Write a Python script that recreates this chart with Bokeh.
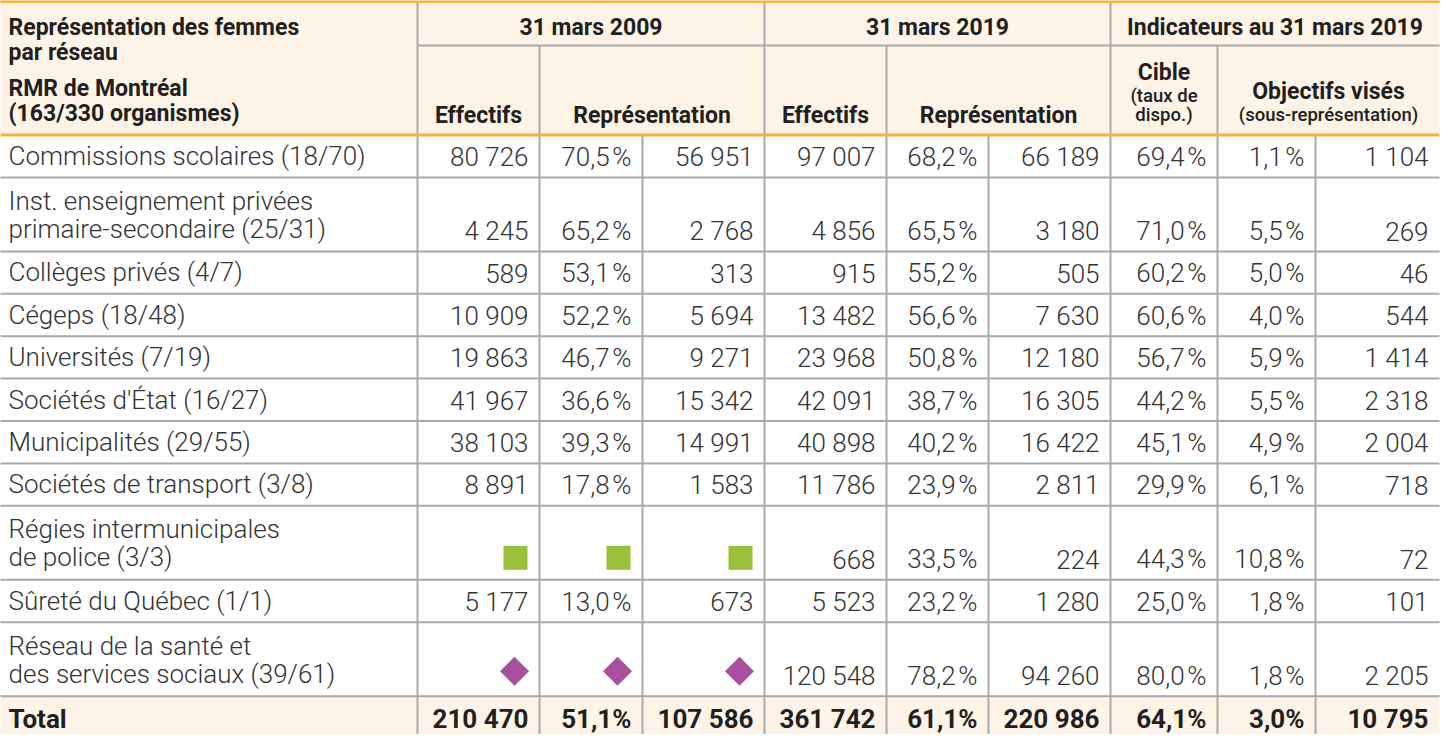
from bokeh.plotting import figure
from bokeh.models import Range1d
from bokeh.core.properties import value
from bokeh.embed import file_html
from bokeh.resources import INLINE
import math

# ---------------- data ----------------
labels = [
    "Commissions scolaires (18/70)",
    "Inst. enseignement privées\nprimaire-secondaire (25/31)",
    "Collèges privés (4/7)",
    "Cégeps (18/48)",
    "Universités (7/19)",
    "Sociétés d'État (16/27)",
    "Municipalités (29/55)",
    "Sociétés de transport (3/8)",
    "Régies intermunicipales\nde police (3/3)",
    "Sûreté du Québec (1/1)",
    "Réseau de la santé et\ndes services sociaux (39/61)",
]
eff_2009 = [80726, 4245, 589, 10909, 19863, 41967, 38103, 8891, None, 5177, None]
rep_pct_2009 = [70.5, 65.2, 53.1, 52.2, 46.7, 36.6, 39.3, 17.8, None, 13.0, None]
rep_n_2009 = [56951, 2768, 313, 5694, 9271, 15342, 14991, 1583, None, 673, None]
eff_2019 = [97007, 4856, 915, 13482, 23968, 42091, 40898, 11786, 668, 5523, 120548]
rep_pct_2019 = [68.2, 65.5, 55.2, 56.6, 50.8, 38.7, 40.2, 23.9, 33.5, 23.2, 78.2]
rep_n_2019 = [66189, 3180, 505, 7630, 12180, 16305, 16422, 2811, 224, 1280, 94260]
cible = [69.4, 71.0, 60.2, 60.6, 56.7, 44.2, 45.1, 29.9, 44.3, 25.0, 80.0]
obj_pct = [1.1, 5.5, 5.0, 4.0, 5.9, 5.5, 4.9, 6.1, 10.8, 1.8, 1.8]
obj_n = [1104, 269, 46, 544, 1414, 2318, 2004, 718, 72, 101, 2205]
note_2009 = ["", "", "", "", "", "", "", "", "square", "", "diamond"]

total_label = "Total"
totals = [210470, 51.1, 107586, 361742, 61.1, 220986, 64.1, 3.0, 10795]
total_kinds = ["n", "p", "n", "n", "p", "n", "p", "p", "n"]

title_lines = ["Représentation des femmes", "par réseau", "RMR de Montréal", "(163/330 organismes)"]
group_headers = ["31 mars 2009", "31 mars 2019", "Indicateurs au 31 mars 2019"]
sub_headers = ["Effectifs", "Représentation", "Effectifs", "Représentation", "Cible", "Objectifs visés"]
cible_note = ["(taux de", "dispo.)"]
obj_note = "(sous-représentation)"

# ---------------- layout / style ----------------
FONT = value("Roboto")
BODY_FONT = value("Roboto Light")
NOTE_FONT = value("Roboto Medium")
CREAM = "#fdf4e7"
ORANGE = "#f7b23b"
GRID = "#a7a9ac"
HEAD_C = "#231f20"
BODY_C = "#333333"
GREEN = "#9abf3b"
PURPLE = "#a94f9f"

col_x = [7, 425, 547, 650, 772, 894, 996, 1118, 1225, 1323, 1447]
HEAD_TOP, HEAD_MID, HEAD_BOT = 10, 53, 142.5
SINGLE, DOUBLE = 42.4, 74.0
BOTTOM = 742
PAD = 11
LEFT_X = 16
BODY_FS, HEAD_FS, NOTE_FS, TOTAL_FS = 26, 23, 18.5, 26


def bl(y, fs):
    # place the alphabetic baseline of a text of size fs at y
    return y - 0.36 * fs


def fmt_n(v):
    return f"{v:,}".replace(",", " ")


def fmt_p(v, sep="\u200a"):
    return f"{v:.1f}".replace(".", ",") + sep + "%"


p = figure(width=1444, height=734, x_range=Range1d(8, 1452), y_range=Range1d(742, 8),
           output_backend="svg", toolbar_location=None, min_border=0,
           x_axis_type=None, y_axis_type=None)
p.grid.visible = False
p.outline_line_color = None
p.background_fill_color = "white"
p.border_fill_color = "white"

# row boundaries
row_tops, row_bots = [], []
y = HEAD_BOT
for lab in labels:
    h = DOUBLE if "\n" in lab else SINGLE
    row_tops.append(y)
    y += h
    row_bots.append(y)
total_top = y

# backgrounds
p.quad(left=[col_x[0], col_x[0]], right=[col_x[-1], col_x[-1]],
       top=[HEAD_TOP, total_top], bottom=[HEAD_BOT, BOTTOM],
       fill_color=CREAM, line_color=None)

# grid lines
hy = row_bots
p.segment(x0=[col_x[0]] * len(hy), x1=[col_x[-1]] * len(hy), y0=hy, y1=hy,
          line_color=GRID, line_width=2)
p.segment(x0=[col_x[1]], x1=[col_x[-1]], y0=[HEAD_MID], y1=[HEAD_MID], line_color=GRID, line_width=2)
vx = col_x[1:-1]
p.segment(x0=vx, x1=vx, y0=[HEAD_BOT] * len(vx), y1=[BOTTOM] * len(vx), line_color=GRID, line_width=2)
full = [col_x[1], col_x[4], col_x[7]]
half = [col_x[2], col_x[5], col_x[8]]
p.segment(x0=full, x1=full, y0=[HEAD_TOP] * 3, y1=[HEAD_BOT] * 3, line_color=GRID, line_width=2)
p.segment(x0=half, x1=half, y0=[HEAD_MID] * 3, y1=[HEAD_BOT] * 3, line_color=GRID, line_width=2)

# orange rules
p.quad(left=[col_x[0], col_x[0]], right=[col_x[-1], col_x[-1]],
       top=[7.5, HEAD_BOT - 1.5], bottom=[10.5, HEAD_BOT + 1.5],
       fill_color=ORANGE, line_color=None)

# header texts
tl_y = [bl(v, HEAD_FS) for v in [43, 68, 104, 129]]
p.text(x=[LEFT_X] * 4, y=tl_y, text=title_lines, text_font=FONT, text_font_style="bold",
       text_font_size=f"{HEAD_FS}px", text_color=HEAD_C, text_align="left", text_baseline="alphabetic")

gx = [(col_x[1] + col_x[4]) / 2, (col_x[4] + col_x[7]) / 2, (col_x[7] + col_x[10]) / 2]
p.text(x=gx, y=[bl(43, HEAD_FS)] * 3, text=group_headers, text_font=FONT, text_font_style="bold",
       text_font_size=f"{HEAD_FS}px", text_color=HEAD_C, text_align="center", text_baseline="alphabetic")

spans = [(1, 2), (2, 4), (4, 5), (5, 7), (7, 8), (8, 10)]
sx = [(col_x[a] + col_x[b]) / 2 for a, b in spans]
sy = [bl(v, HEAD_FS) for v in [131, 131, 131, 131, 88, 107]]
p.text(x=sx, y=sy, text=sub_headers, text_font=FONT, text_font_style="bold",
       text_font_size=f"{HEAD_FS}px", text_color=HEAD_C, text_align="center", text_baseline="alphabetic")
p.text(x=[sx[4], sx[4], sx[5]], y=[bl(v, NOTE_FS) for v in [110, 129, 129]],
       text=cible_note + [obj_note], text_font=NOTE_FONT,
       text_font_size=f"{NOTE_FS}px", text_color=HEAD_C,
       text_align="center", text_baseline="alphabetic")

# body labels
lx, ly, lt = [], [], []
for lab, b in zip(labels, row_bots):
    lines = lab.split("\n")
    base = b - (13 if len(lines) > 1 else 12)
    for i, ln in enumerate(lines):
        lx.append(LEFT_X)
        ly.append(bl(base - 28 * (len(lines) - 1 - i), BODY_FS))
        lt.append(ln)
p.text(x=lx, y=ly, text=lt, text_font=BODY_FONT, text_font_size=f"{BODY_FS}px", text_color=BODY_C,
       text_align="left", text_baseline="alphabetic")

# body values
columns = [(eff_2009, "n"), (rep_pct_2009, "p"), (rep_n_2009, "n"), (eff_2019, "n"),
           (rep_pct_2019, "p"), (rep_n_2019, "n"), (cible, "p"), (obj_pct, "p"), (obj_n, "n")]
vx_, vy_, vt_ = [], [], []
sqx, sqy, dmx, dmy = [], [], [], []
for ci, (vals, kind) in enumerate(columns):
    right = col_x[ci + 2]
    for ri, v in enumerate(vals):
        b = row_bots[ri]
        if v is None:
            if note_2009[ri] == "square":
                sqx.append(right - 24)
                sqy.append(b - 22)
            elif note_2009[ri] == "diamond":
                dmx.append(right - 25)
                dmy.append(b - 25)
            continue
        vx_.append(right - PAD)
        vy_.append(bl(b - 11, BODY_FS))
        vt_.append(fmt_n(v) if kind == "n" else fmt_p(v))
p.text(x=vx_, y=vy_, text=vt_, text_font=BODY_FONT, text_font_size=f"{BODY_FS}px", text_color=BODY_C,
       text_align="right", text_baseline="alphabetic")

p.scatter(x=sqx, y=sqy, marker="square", size=24, fill_color=GREEN, line_color=None)
p.scatter(x=dmx, y=dmy, marker="square", size=20.5, angle=math.pi / 4,
          fill_color=PURPLE, line_color=None)

# total row
ty = bl(total_top + 32, TOTAL_FS)
p.text(x=[LEFT_X], y=[ty], text=[total_label], text_font=FONT, text_font_style="bold",
       text_font_size=f"{TOTAL_FS}px", text_color=HEAD_C, text_align="left", text_baseline="alphabetic")
tx = [col_x[i + 2] - PAD for i in range(len(totals))]
tt = [fmt_n(v) if k == "n" else fmt_p(v, "") for v, k in zip(totals, total_kinds)]
p.text(x=tx, y=[ty] * len(tx), text=tt, text_font=FONT, text_font_style="bold",
       text_font_size=f"{TOTAL_FS}px", text_color=HEAD_C, text_align="right", text_baseline="alphabetic")

open("out.html", "w").write(file_html(p, INLINE))
